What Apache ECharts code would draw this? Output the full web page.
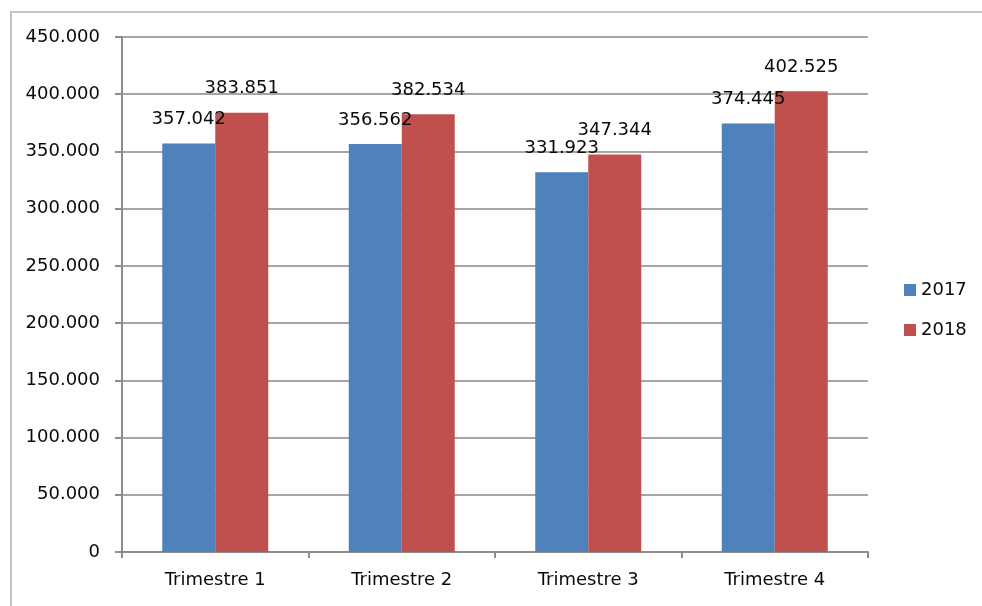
<!DOCTYPE html>
<html>
<head>
<meta charset="utf-8">
<script src="https://cdn.jsdelivr.net/npm/echarts@6/dist/echarts.min.js"></script>
<style>
html, body { margin: 0; padding: 0; background: #fff; }
#main { width: 982px; height: 606px; }
</style>
</head>
<body>
<div id="main"></div>
<script>
var categories = ['Trimestre 1', 'Trimestre 2', 'Trimestre 3', 'Trimestre 4'];
var serie2017 = [357042, 356562, 331923, 374445];
var serie2018 = [383851, 382534, 347344, 402525];
var seriesNames = ['2017', '2018'];

// separatore delle migliaia col punto
function fmt(v) {
    return String(v).replace(/\B(?=(\d{3})+(?!\d))/g, '.');
}

var myChart = echarts.init(document.getElementById('main'));

var option = {
    animation: false,
    color: ['#4F81BD', '#C0504D'],
    textStyle: { fontFamily: 'DejaVu Sans', fontSize: 18, color: '#0a0a0a' },
    graphic: [
        { type: 'line', shape: { x1: 10, y1: 12, x2: 982, y2: 12 }, style: { stroke: '#c4c4c4', lineWidth: 2 } },
        { type: 'line', shape: { x1: 11, y1: 12, x2: 11, y2: 606 }, style: { stroke: '#c4c4c4', lineWidth: 2 } }
    ],
    grid: { left: 122, right: 114, top: 37, bottom: 54 },
    legend: {
        orient: 'vertical',
        left: 899,
        top: 276,
        itemWidth: 12,
        itemHeight: 12,
        itemGap: 22,
        icon: 'rect',
        data: seriesNames,
        textStyle: { fontFamily: 'DejaVu Sans', fontSize: 18, color: '#0a0a0a' }
    },
    xAxis: {
        type: 'category',
        data: categories,
        axisLine: { lineStyle: { color: '#8c8c8c', width: 2 } },
        axisTick: { show: true, length: 6, lineStyle: { color: '#8c8c8c', width: 2 } },
        axisLabel: { margin: 19, fontFamily: 'DejaVu Sans', fontSize: 18, color: '#0a0a0a' }
    },
    yAxis: {
        type: 'value',
        min: 0,
        max: 450000,
        interval: 50000,
        axisLine: { show: true, lineStyle: { color: '#8c8c8c', width: 2 } },
        axisTick: { show: true, length: 7, lineStyle: { color: '#8c8c8c', width: 2 } },
        splitLine: { lineStyle: { color: '#a6a6a6', width: 2 } },
        axisLabel: {
            margin: 22,
            fontFamily: 'DejaVu Sans',
            fontSize: 18,
            color: '#0a0a0a',
            formatter: function (v) { return fmt(v); }
        }
    },
    series: [
        {
            name: seriesNames[0],
            type: 'bar',
            data: serie2017,
            barWidth: 53,
            barGap: '0%',
            label: {
                show: true,
                position: 'top',
                distance: 15,
                fontFamily: 'DejaVu Sans',
                fontSize: 18,
                color: '#0a0a0a',
                formatter: function (p) { return fmt(p.value); }
            }
        },
        {
            name: seriesNames[1],
            type: 'bar',
            data: serie2018,
            barWidth: 53,
            barGap: '0%',
            label: {
                show: true,
                position: 'top',
                distance: 15,
                fontFamily: 'DejaVu Sans',
                fontSize: 18,
                color: '#0a0a0a',
                formatter: function (p) { return fmt(p.value); }
            }
        }
    ]
};

myChart.setOption(option);
</script>
</body>
</html>
